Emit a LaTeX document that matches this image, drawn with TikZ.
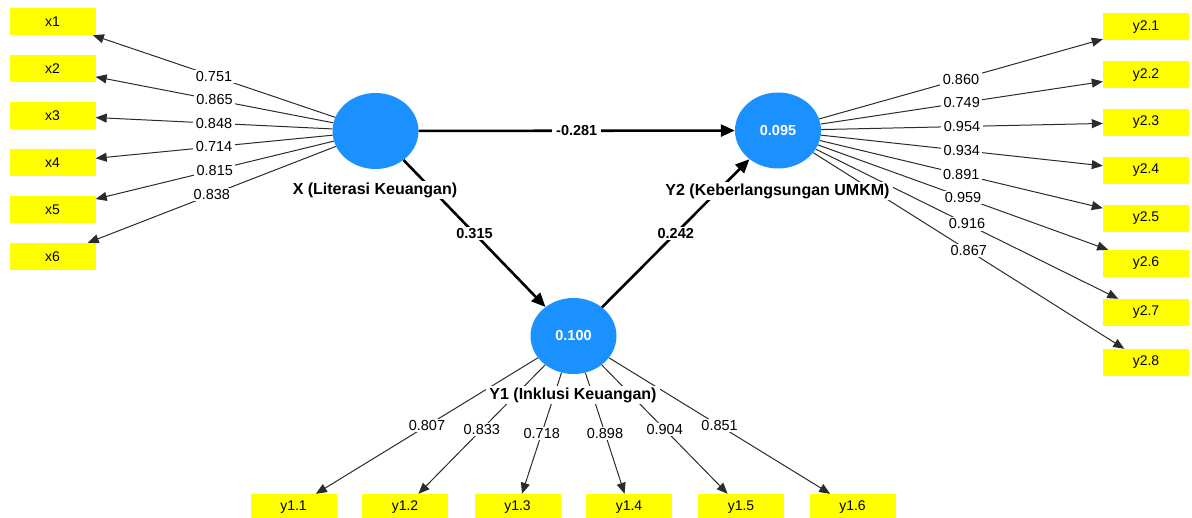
\documentclass[tikz,border=0pt]{standalone}
\usepackage{fontspec}
\setmainfont{Liberation Sans}
\usetikzlibrary{arrows.meta,shapes.geometric}
\definecolor{lvblue}{HTML}{1A91FF}
\definecolor{indyellow}{HTML}{FFFF00}
\definecolor{loadgray}{HTML}{2B2B2B}
\tikzset{
  latent/.style={ellipse, fill=lvblue, minimum width=86pt, minimum height=76pt, inner sep=0pt, text=white, font=\fontsize{14.5}{16}\selectfont\bfseries},
  indic/.style={fill=indyellow, minimum width=86pt, minimum height=27pt, inner sep=0pt, font=\fontsize{14}{16}\selectfont},
  lvname/.style={fill=white, inner xsep=3pt, inner ysep=2pt, font=\fontsize{16}{18}\selectfont\bfseries},
  load/.style={-{Triangle[length=11pt,width=9pt]}, line width=1pt, loadgray},
  inner/.style={-{Triangle[length=14pt,width=12pt]}, line width=2.6pt, black},
  coef/.style={fill=white, inner xsep=2.5pt, inner ysep=1.5pt, text=black, font=\fontsize{14.5}{16}\selectfont},
  bcoef/.style={coef, inner xsep=4pt, font=\fontsize{14.5}{16}\selectfont\bfseries},
}

\begin{document}
\begin{tikzpicture}[x=1pt, y=-1pt]
  \useasboundingbox (0,0) rectangle (1192,518);
  % latent variables
  \node[latent] (X) at (375.5,131) {};
  \node[latent] (Y2) at (778,130.5) {0.095};
  \node[latent] (Y1) at (573.5,336) {0.100};
  % indicators of X
  \node[indic] (x1) at (52.5,21.5) {x1};
  \node[indic] (x2) at (52.5,68.5) {x2};
  \node[indic] (x3) at (52.5,115.5) {x3};
  \node[indic] (x4) at (52.5,162.5) {x4};
  \node[indic] (x5) at (52.5,209.5) {x5};
  \node[indic] (x6) at (52.5,256.5) {x6};
  % indicators of Y2
  \node[indic] (y21) at (1146,27) {y2.1};
  \node[indic] (y22) at (1146,75) {y2.2};
  \node[indic] (y23) at (1146,122.5) {y2.3};
  \node[indic] (y24) at (1146,170.5) {y2.4};
  \node[indic] (y25) at (1146,218.5) {y2.5};
  \node[indic] (y26) at (1146,263.5) {y2.6};
  \node[indic] (y27) at (1146,312.5) {y2.7};
  \node[indic] (y28) at (1146,362.5) {y2.8};
  % indicators of Y1
  \node[indic] (y11) at (293.5,507.5) {y1.1};
  \node[indic] (y12) at (405,507.5) {y1.2};
  \node[indic] (y13) at (517.5,507.5) {y1.3};
  \node[indic] (y14) at (629,507.5) {y1.4};
  \node[indic] (y15) at (741,507.5) {y1.5};
  \node[indic] (y16) at (852.5,507.5) {y1.6};

  % outer loadings
  \draw[load] (X)--(x1) node[coef, midway] {0.751}; \draw[load] (X)--(x2) node[coef, midway] {0.865};
  \draw[load] (X)--(x3) node[coef, midway] {0.848}; \draw[load] (X)--(x4) node[coef, midway] {0.714};
  \draw[load] (X)--(x5) node[coef, midway] {0.815}; \draw[load] (X)--(x6) node[coef, midway] {0.838};
  \draw[load] (Y2)--(y21) node[coef, midway] {0.860}; \draw[load] (Y2)--(y22) node[coef, midway] {0.749};
  \draw[load] (Y2)--(y23) node[coef, midway] {0.954}; \draw[load] (Y2)--(y24) node[coef, midway] {0.934};
  \draw[load] (Y2)--(y25) node[coef, midway] {0.891}; \draw[load] (Y2)--(y26) node[coef, midway] {0.959};
  \draw[load] (Y2)--(y27) node[coef, midway] {0.916}; \draw[load] (Y2)--(y28) node[coef, midway] {0.867};
  \draw[load] (Y1)--(y11) node[coef, midway] {0.807}; \draw[load] (Y1)--(y12) node[coef, midway] {0.833};
  \draw[load] (Y1)--(y13) node[coef, midway] {0.718}; \draw[load] (Y1)--(y14) node[coef, midway] {0.898};
  \draw[load] (Y1)--(y15) node[coef, midway] {0.904}; \draw[load] (Y1)--(y16) node[coef, midway] {0.851};

  % path coefficients
  \draw[inner] (X)--(Y2) node[bcoef, midway] {-0.281};
  \draw[inner] (X)--(Y1) node[bcoef, midway] {0.315};
  \draw[inner] (Y1)--(Y2) node[bcoef, midway] {0.242};

  % construct names
  \node[lvname] (Xname) at (375,190) {X (Literasi Keuangan)};
  \node[lvname] (Y2name) at (777.5,191) {Y2 (Keberlangsungan UMKM)};
  \node[lvname] (Y1name) at (573,395) {Y1 (Inklusi Keuangan)};
\end{tikzpicture}
\end{document}
